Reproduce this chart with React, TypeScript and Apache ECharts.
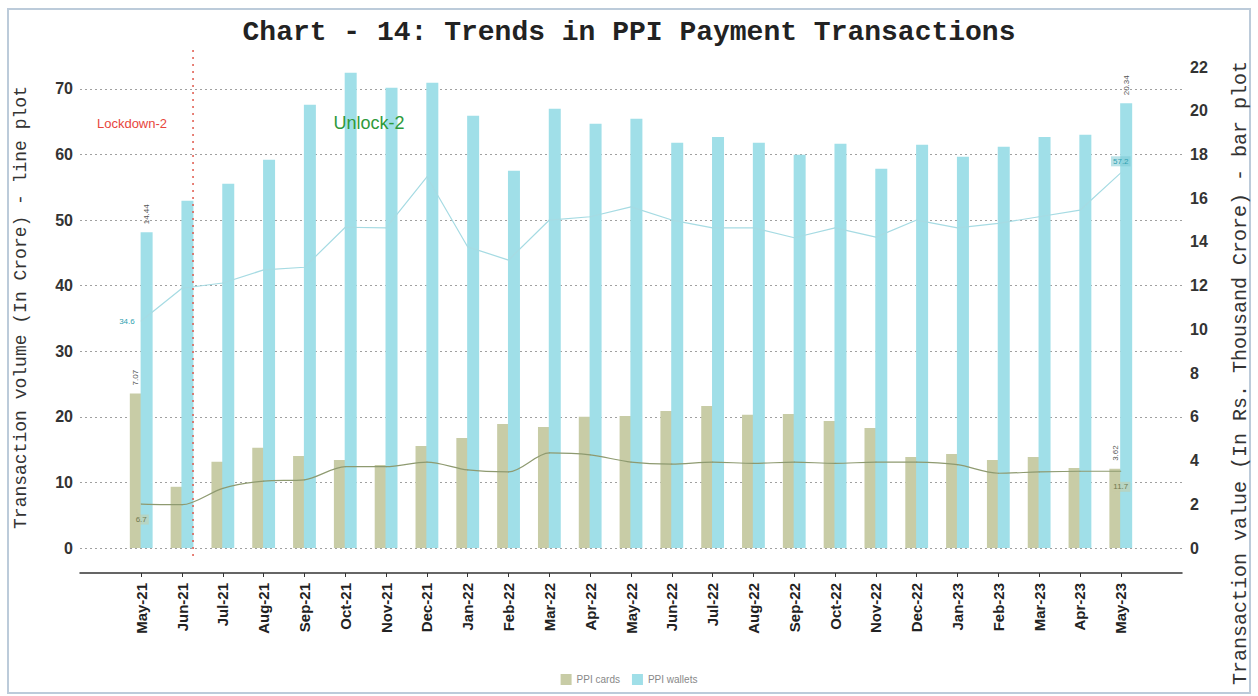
import React, { useEffect, useRef } from "react";
import * as echarts from "echarts";

const months = [
  "May-21", "Jun-21", "Jul-21", "Aug-21", "Sep-21", "Oct-21", "Nov-21", "Dec-21",
  "Jan-22", "Feb-22", "Mar-22", "Apr-22", "May-22", "Jun-22", "Jul-22", "Aug-22",
  "Sep-22", "Oct-22", "Nov-22", "Dec-22", "Jan-23", "Feb-23", "Mar-23", "Apr-23", "May-23",
];
// Transaction value (Rs. thousand crore) - bars, right axis
const cardsValue = [7.07, 2.8, 3.94, 4.58, 4.21, 4.03, 3.8, 4.67, 5.03, 5.67, 5.54, 6.0, 6.04, 6.27, 6.5, 6.09, 6.13, 5.81, 5.49, 4.16, 4.3, 4.03, 4.16, 3.66, 3.62];
const walletsValue = [14.44, 15.88, 16.66, 17.76, 20.27, 21.74, 21.05, 21.28, 19.77, 17.25, 20.09, 19.4, 19.63, 18.53, 18.8, 18.53, 17.99, 18.49, 17.35, 18.44, 17.9, 18.35, 18.8, 18.9, 20.34];
// Transaction volume (crore) - lines, left axis
const cardsVolume = [6.7, 6.6, 9.1, 10.2, 10.4, 12.4, 12.4, 13.1, 11.9, 11.6, 14.5, 14.2, 13.1, 12.8, 13.1, 12.9, 13.1, 12.9, 13.1, 13.1, 12.7, 11.4, 11.6, 11.7, 11.7];
const walletsVolume = [34.6, 39.6, 40.4, 42.4, 42.8, 48.9, 48.8, 56.6, 45.9, 43.9, 50.0, 50.5, 52.0, 50.0, 48.8, 48.8, 47.3, 48.8, 47.4, 50.0, 48.8, 49.5, 50.5, 51.5, 57.2];

const leftTicks = { min: 0, max: 220 / 3, interval: 10 };
const rightTicks = { min: 0, max: 22, interval: 2 };

const CARD_COLOR = "#c8cca6";
const WALLET_COLOR = "#a0dfe8";

export default function App() {
  const ref = useRef<HTMLDivElement>(null);
  useEffect(() => {
    if (!ref.current) return;
    const chart = echarts.init(ref.current, undefined, { renderer: "svg" });
    const cats = ["", ...months, ""];
    const last = months.length;
    const withLabels = (arr: number[], labelFor: (i: number) => any) =>
      [null, ...arr.map((v, i) => (i === 0 || i === last - 1 ? { value: v, label: labelFor(i) } : v)), null];

    const barLabel = () => ({
      show: true,
      position: "top",
      rotate: 90,
      align: "left",
      verticalAlign: "middle",
      distance: 8,
      fontSize: 8,
      color: "#555",
      fontFamily: "Liberation Sans",
    });

    chart.setOption({
      animation: false,
      backgroundColor: "#ffffff",
      title: {
        text: "Chart - 14: Trends in PPI Payment Transactions",
        left: "center",
        top: 13,
        textStyle: { fontFamily: "Liberation Mono", fontWeight: "bold", fontSize: 28, color: "#222" },
      },
      legend: {
        data: ["PPI cards", "PPI wallets"],
        top: 669,
        left: "center",
        icon: "rect",
        itemWidth: 11,
        itemHeight: 11,
        itemGap: 12,
        textStyle: { fontSize: 10, color: "#888", fontFamily: "Liberation Sans" },
      },
      grid: { left: 80, right: 76, top: 67, bottom: 148 },
      xAxis: {
        type: "category",
        data: cats,
        offset: 25,
        axisLine: { onZero: false, lineStyle: { color: "#333", width: 1.5 } },
        axisTick: {
          show: true,
          alignWithLabel: true,
          interval: (i: number) => i > 0 && i < cats.length - 1,
          length: 4,
          lineStyle: { color: "#333" },
        },
        axisLabel: {
          interval: 0,
          rotate: 90,
          margin: 10,
          fontSize: 15,
          fontWeight: "bold",
          color: "#222",
          fontFamily: "Liberation Sans",
        },
      },
      yAxis: [
        {
          type: "value",
          ...leftTicks,
          name: "Transaction volume (In Crore) - line plot",
          nameLocation: "middle",
          nameRotate: 90,
          nameGap: 50,
          nameTextStyle: { fontFamily: "Liberation Mono", fontSize: 18, color: "#333" },
          axisLine: { show: false },
          axisTick: { show: false },
          axisLabel: {
            margin: 7,
            fontSize: 16,
            fontWeight: "bold",
            color: "#333",
            fontFamily: "Liberation Sans",
            showMaxLabel: false,
          },
          splitLine: {
            show: true,
            showMaxLine: false,
            lineStyle: { color: "#a0a0a0", type: [2, 3], width: 1 },
          },
        },
        {
          type: "value",
          ...rightTicks,
          position: "right",
          axisLine: { show: false },
          axisTick: { show: false },
          axisLabel: {
            margin: 8,
            fontSize: 16,
            fontWeight: "bold",
            color: "#333",
            fontFamily: "Liberation Sans",
          },
          splitLine: { show: false },
        },
      ],
      series: [
        {
          name: "PPI cards",
          type: "bar",
          yAxisIndex: 1,
          barWidth: 12,
          barGap: "-10%",
          itemStyle: { color: CARD_COLOR },
          data: withLabels(cardsValue, barLabel),
        },
        {
          name: "PPI wallets",
          type: "bar",
          yAxisIndex: 1,
          barWidth: 12,
          itemStyle: { color: WALLET_COLOR },
          data: withLabels(walletsValue, barLabel),
        },
        {
          name: "PPI cards volume",
          type: "line",
          yAxisIndex: 0,
          smooth: 0.3,
          symbol: "circle",
          symbolSize: 1,
          itemStyle: { color: "#8e9a70" },
          lineStyle: { color: "#8e9a70", width: 1.2 },
          data: withLabels(cardsVolume, () => ({
            show: true,
            position: "bottom",
            distance: 10,
            fontSize: 8,
            color: "#6f7a50",
            backgroundColor: "rgba(200,204,166,0.55)",
            padding: [1, 2],
            fontFamily: "Liberation Sans",
          })),
        },
        {
          name: "PPI wallets volume",
          type: "line",
          yAxisIndex: 0,
          smooth: false,
          symbol: "circle",
          symbolSize: 1,
          itemStyle: { color: "#a6dbe3" },
          lineStyle: { color: "#a6dbe3", width: 1.2 },
          data: withLabels(walletsVolume, (i: number) => ({
            show: true,
            position: i === 0 ? "left" : "top",
            distance: i === 0 ? 4 : 6,
            fontSize: 8,
            color: "#2f9fb0",
            backgroundColor: i === 0 ? "transparent" : "rgba(120,200,210,0.5)",
            padding: [1, 2],
            fontFamily: "Liberation Sans",
          })),
        },
      ],
    });

    const px = chart.convertToPixel({ xAxisIndex: 0 }, "Jun-21") as number;
    const lx = px + 11;
    chart.setOption({
      graphic: [
        {
          type: "rect",
          z: 100,
          shape: { x: 8, y: 9, width: 1242, height: 684 },
          style: { fill: "none", stroke: "#bccbda", lineWidth: 2 },
          silent: true,
        },
        {
          type: "line",
          z: 100,
          shape: { x1: lx, y1: 50, x2: lx, y2: 556 },
          style: { stroke: "#e0584c", lineWidth: 1.5, lineDash: [2, 5] },
          silent: true,
        },
        {
          type: "text",
          z: 100,
          x: 132,
          y: 123,
          style: {
            text: "Lockdown-2",
            fill: "#e8453c",
            fontSize: 13,
            fontFamily: "Liberation Sans",
            align: "center",
            verticalAlign: "middle",
          },
        },
        {
          type: "text",
          z: 100,
          x: 369,
          y: 123,
          style: {
            text: "Unlock-2",
            fill: "#2e9a3c",
            fontSize: 18,
            fontFamily: "Liberation Sans",
            align: "center",
            verticalAlign: "middle",
          },
        },
        {
          type: "text",
          z: 100,
          x: 1240,
          y: 373,
          rotation: Math.PI / 2,
          style: {
            text: "Transaction value (In Rs. Thousand Crore) - bar plot",
            fill: "#333",
            fontSize: 20,
            fontFamily: "Liberation Mono",
            align: "center",
            verticalAlign: "middle",
          },
        },
      ],
    });

    return () => chart.dispose();
  }, []);
  return (
    <div
      ref={ref}
      style={{ position: "fixed", left: 0, top: 0, width: 1258, height: 696 }}
    />
  );
}
